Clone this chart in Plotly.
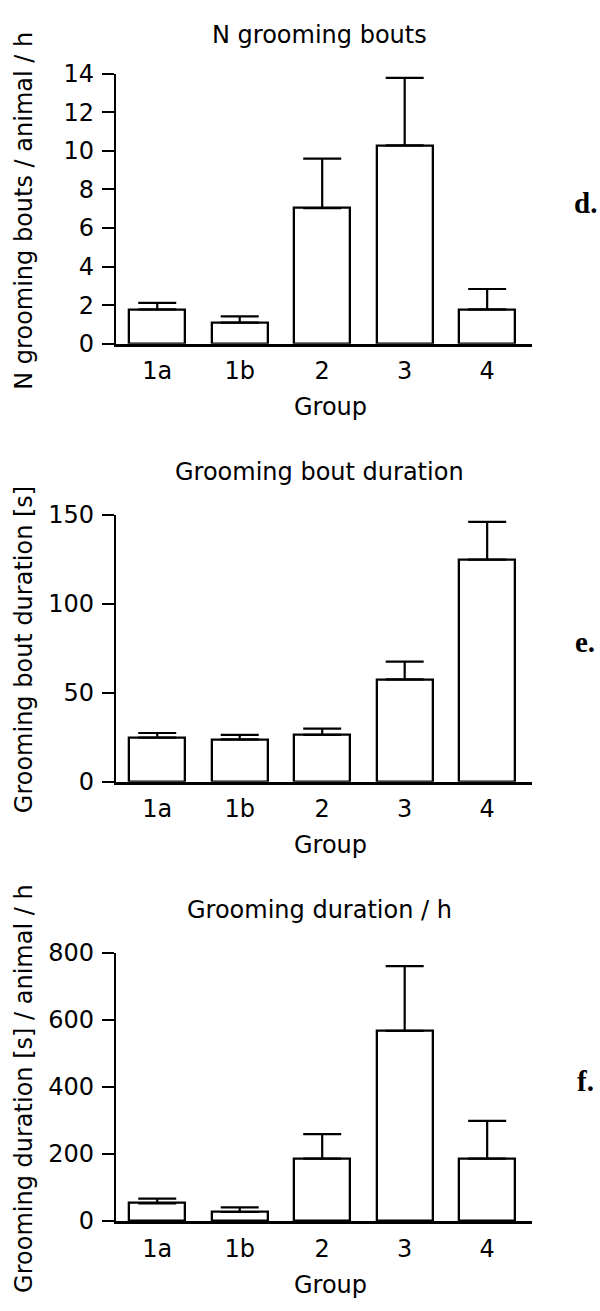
import plotly.graph_objects as go

# ---- data ----
groups = ["1a", "1b", "2", "3", "4"]

bouts_mean = [1.78, 1.10, 7.03, 10.29, 1.78]
bouts_sem = [0.34, 0.32, 2.57, 3.49, 1.06]

bout_dur_mean = [24.8, 23.8, 26.3, 57.5, 124.8]
bout_dur_sem = [2.6, 2.5, 3.6, 10.0, 21.2]

groom_dur_mean = [53, 27, 186, 567, 186]
groom_dur_sem = [14, 14, 73, 193, 113]

titles = ["N grooming bouts", "Grooming bout duration", "Grooming duration / h"]
ylabels = ["N grooming bouts / animal / h", "Grooming bout duration [s]",
           "Grooming duration [s] / animal / h"]
panel_letters = ["d.", "e.", "f."]
y_ticks = [[0, 2, 4, 6, 8, 10, 12, 14], [0, 50, 100, 150], [0, 200, 400, 600, 800]]
y_ranges = [[0, 14], [0, 150], [0, 800]]
x_label = "Group"

# ---- layout geometry (pixels in a 600 x 1311 page) ----
W, H = 600, 1311
X0, X1 = 116, 531.7
panels_px = [(61, 337), (511.7, 784.5), (959.3, 1233.4)]  # (top, zero-line)
title_gap = [40, 44, 44]

FONT = "DejaVu Sans"
FS = 24

def py(p):
    return 1 - p / H

def px(p):
    return p / W

fig = go.Figure()
means_all = [bouts_mean, bout_dur_mean, groom_dur_mean]
sems_all = [bouts_sem, bout_dur_sem, groom_dur_sem]

annotations = []
for i in range(3):
    sfx = "" if i == 0 else str(i + 1)
    fig.add_trace(go.Bar(
        x=groups, y=means_all[i],
        xaxis="x" + sfx, yaxis="y" + sfx,
        width=0.68,
        marker=dict(color="white", line=dict(color="black", width=2.3)),
        error_y=dict(type="data", symmetric=False, array=sems_all[i],
                     arrayminus=[0] * len(groups), color="black",
                     thickness=2.2, width=19),
        showlegend=False, hoverinfo="skip",
    ))
    top, zero = panels_px[i]
    fig.layout["xaxis" + sfx] = dict(
        domain=[px(X0), px(X1)], anchor="y" + sfx, type="category",
        range=[-0.5, 4.54], showline=True, linecolor="black", linewidth=2.6,
        ticks="", showgrid=False, zeroline=False,
        tickfont=dict(family=FONT, size=FS, color="black"),
        ticklabelstandoff=4, fixedrange=True,
    )
    fig.layout["yaxis" + sfx] = dict(
        domain=[py(zero), py(top)], anchor="x" + sfx,
        range=y_ranges[i], tickvals=y_ticks[i], showline=True,
        linecolor="black", linewidth=2.4, ticks="outside", ticklen=12,
        tickwidth=2.2, tickcolor="black", showgrid=False, zeroline=False,
        tickfont=dict(family=FONT, size=FS, color="black"),
        ticklabelstandoff=3, fixedrange=True,
    )
    mid = (top + zero) / 2
    # panel title
    annotations.append(dict(text=titles[i], x=px(319), y=py(top - title_gap[i]),
                            xref="paper", yref="paper", showarrow=False,
                            xanchor="center", yanchor="middle",
                            font=dict(family=FONT, size=FS, color="black")))
    # y axis title
    annotations.append(dict(text=ylabels[i], x=px(24), y=py(mid + 2),
                            xref="paper", yref="paper", showarrow=False,
                            textangle=-90, xanchor="center", yanchor="middle",
                            font=dict(family=FONT, size=FS, color="black")))
    # x axis title
    annotations.append(dict(text=x_label, x=px(330), y=py(zero + 65),
                            xref="paper", yref="paper", showarrow=False,
                            xanchor="center", yanchor="middle",
                            font=dict(family=FONT, size=FS, color="black")))
    # panel letter
    annotations.append(dict(text="<b>" + panel_letters[i] + "</b>",
                            x=px(585), y=py(mid - 6),
                            xref="paper", yref="paper", showarrow=False,
                            xanchor="center", yanchor="middle",
                            font=dict(family="Liberation Serif", size=29,
                                      color="black")))

fig.update_layout(
    width=W, height=H, margin=dict(l=0, r=0, t=0, b=0),
    paper_bgcolor="white", plot_bgcolor="white",
    annotations=annotations, bargap=0, showlegend=False,
)

fig.write_html("out.html", config={"displayModeBar": False},
               post_script="document.body.style.margin='0';"
                           "document.body.style.padding='0';"
                           "document.body.style.overflow='hidden';")
